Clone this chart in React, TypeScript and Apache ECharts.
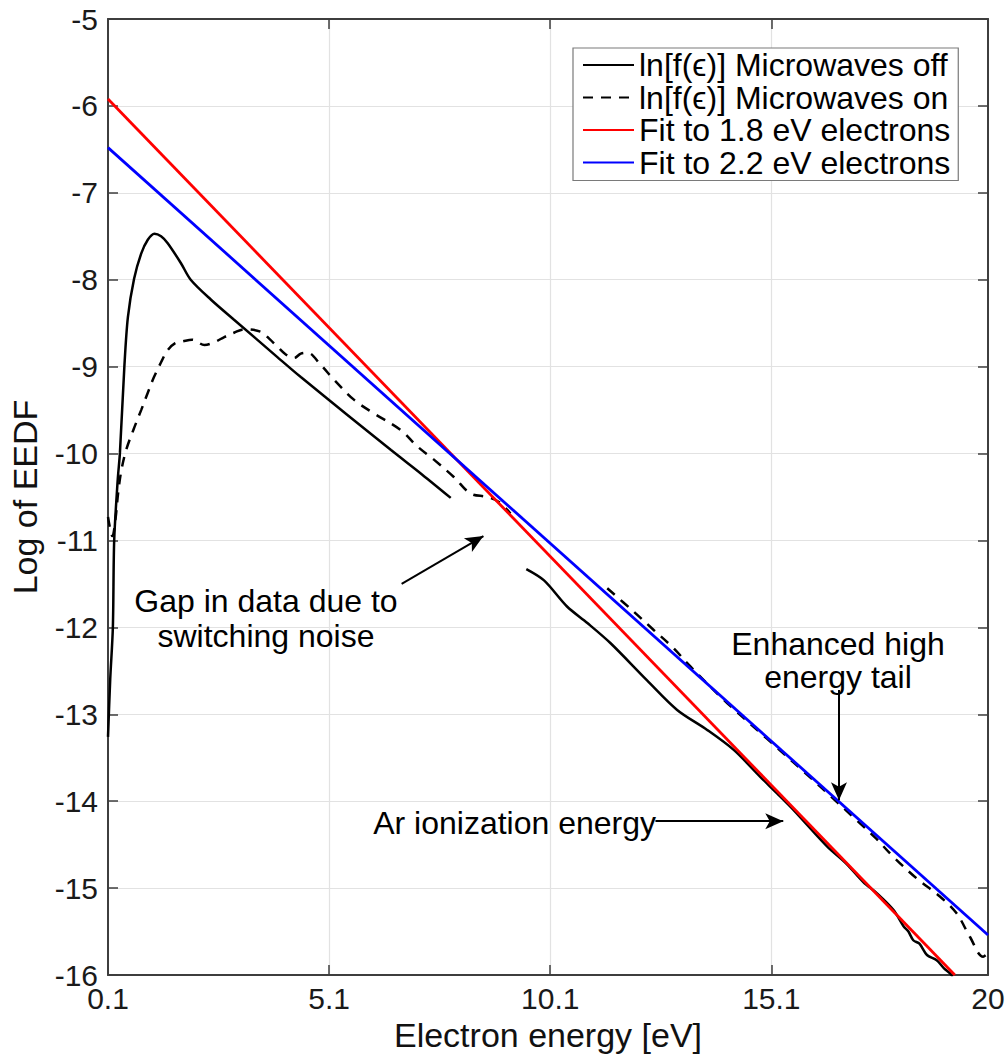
import React, { useEffect, useRef } from "react";
import * as echarts from "echarts";

const FONT = '"Liberation Sans", Arial, Helvetica, "DejaVu Sans", sans-serif';

// Axis ticks
const xTicks = [0.1, 5.1, 10.1, 15.1, 20];
const yMin = -16;
const yMax = -5;

// ln[f(eps)] microwaves off — two segments (gap due to switching noise)
const offX1 = [0.1, 0.15, 0.21, 0.24, 0.32, 0.37, 0.47, 0.55, 0.69, 0.85, 1.0, 1.15, 1.3, 1.45, 1.75, 1.97, 2.43, 2.95, 3.93, 4.46, 5.5, 6.5, 7.2, 7.85];
const offY1 = [-13.26, -12.6, -12.0, -11.0, -10.3, -9.99, -9.0, -8.43, -7.99, -7.7, -7.54, -7.47, -7.5, -7.58, -7.81, -8.0, -8.23, -8.46, -8.89, -9.12, -9.55, -9.96, -10.24, -10.51];
const offX2 = [9.56, 9.96, 10.48, 10.94, 11.46, 12.29, 12.97, 13.65, 14.25, 14.85, 15.23, 15.6, 16.36, 16.8, 17.18, 17.49, 17.86, 18.09, 18.2, 18.31, 18.45, 18.62, 18.84, 19.0, 19.14, 19.2];
const offY2 = [-11.33, -11.46, -11.76, -11.95, -12.18, -12.61, -12.95, -13.18, -13.41, -13.72, -13.91, -14.1, -14.52, -14.72, -14.93, -15.06, -15.25, -15.44, -15.5, -15.6, -15.64, -15.77, -15.83, -15.92, -15.98, -16.02];

// ln[f(eps)] microwaves on — two segments
const onX1 = [0.1, 0.2, 0.27, 0.33, 0.4, 0.51, 0.68, 0.85, 1.0, 1.14, 1.3, 1.45, 1.62, 1.79, 2.0, 2.28, 2.5, 2.73, 2.95, 3.18, 3.56, 3.75, 3.93, 4.12, 4.31, 4.46, 4.61, 4.91, 5.21, 5.66, 6.12, 6.72, 7.1, 7.47, 7.92, 8.3, 8.68, 8.95, 9.2];
const onY1 = [-10.73, -10.95, -10.75, -10.45, -10.2, -9.96, -9.72, -9.5, -9.3, -9.12, -8.95, -8.81, -8.73, -8.71, -8.69, -8.75, -8.72, -8.66, -8.61, -8.57, -8.6, -8.68, -8.77, -8.86, -8.9, -8.85, -8.84, -8.98, -9.15, -9.38, -9.54, -9.73, -9.92, -10.07, -10.27, -10.46, -10.5, -10.56, -10.69];
const onX2 = [11.39, 11.99, 12.44, 12.89, 13.27, 14.1, 15.0, 15.9, 16.5, 17.03, 17.45, 17.86, 18.39, 18.92, 19.29, 19.59, 19.89, 20];
const onY2 = [-11.55, -11.82, -12.03, -12.24, -12.45, -12.87, -13.28, -13.69, -13.97, -14.22, -14.42, -14.64, -14.89, -15.1, -15.29, -15.56, -15.79, -15.75];

// Linear fits
const fit18X = [0.1, 19.25];
const fit18Y = [-5.92, -16.0];
const fit22X = [0.1, 20];
const fit22Y = [-6.48, -15.54];

// Annotation arrows (data coordinates)
const arrowFromX = [6.74, 16.63, 12.48];
const arrowFromY = [-11.5, -12.72, -14.23];
const arrowToX = [8.59, 16.63, 15.37];
const arrowToY = [-10.95, -13.99, -14.23];

const seriesNames = [
  "ln[f(ϵ)] Microwaves off",
  "ln[f(ϵ)] Microwaves on",
  "Fit to 1.8 eV electrons",
  "Fit to 2.2 eV electrons",
];

function pairs(xs: number[], ys: number[]) {
  return xs.map((x, i) => [x, ys[i]]);
}
function segments(a: number[][], b: number[][]) {
  return [...a, [null, null], ...b];
}

export default function App() {
  const ref = useRef<HTMLDivElement>(null);
  useEffect(() => {
    if (!ref.current) return;
    const chart = echarts.init(ref.current, undefined, { renderer: "svg" });
    const axisColor = "#3e3e3e";
    const gridColor = "#e2e2e2";
    const arrows = arrowFromX.map((_, i) => [
      { coord: [arrowFromX[i], arrowFromY[i]] },
      { coord: [arrowToX[i], arrowToY[i]] },
    ]);
    chart.setOption({
      animation: false,
      backgroundColor: "#ffffff",
      textStyle: { fontFamily: FONT },
      grid: { left: 107, right: 20, top: 19, bottom: 84, containLabel: false },
      xAxis: [
        {
          type: "value",
          min: 0.1,
          max: 20,
          position: "bottom",
          name: "Electron energy [eV]",
          nameLocation: "middle",
          nameGap: 30,
          nameTextStyle: { fontSize: 34, color: "#111", fontFamily: FONT },
          axisLine: { show: true, onZero: false, lineStyle: { color: axisColor, width: 2 } },
          axisTick: { show: true, inside: true, length: 10, customValues: xTicks, lineStyle: { color: axisColor, width: 1.5 } },
          axisLabel: { show: true, customValues: xTicks, margin: 8, fontSize: 30, color: "#1a1a1a", fontFamily: FONT, formatter: (v: number) => String(Math.round(v * 10) / 10) },
          splitLine: { show: true, customValues: xTicks, lineStyle: { color: gridColor, width: 1.2 } },
        },
        {
          type: "value",
          min: 0.1,
          max: 20,
          position: "top",
          axisLine: { show: true, onZero: false, lineStyle: { color: axisColor, width: 2 } },
          axisTick: { show: true, inside: true, length: 10, customValues: xTicks, lineStyle: { color: axisColor, width: 1.5 } },
          axisLabel: { show: false },
          splitLine: { show: false },
        },
      ],
      yAxis: [
        {
          type: "value",
          min: yMin,
          max: yMax,
          interval: 1,
          position: "left",
          name: "Log of EEDF",
          nameLocation: "middle",
          nameGap: 66,
          nameTextStyle: { fontSize: 34, color: "#111", fontFamily: FONT },
          axisLine: { show: true, onZero: false, lineStyle: { color: axisColor, width: 2 } },
          axisTick: { show: true, inside: true, length: 10, lineStyle: { color: axisColor, width: 1.5 } },
          axisLabel: { show: true, margin: 10, fontSize: 30, color: "#1a1a1a", fontFamily: FONT },
          splitLine: { show: true, lineStyle: { color: gridColor, width: 1.2 } },
        },
        {
          type: "value",
          min: yMin,
          max: yMax,
          interval: 1,
          position: "right",
          axisLine: { show: true, onZero: false, lineStyle: { color: axisColor, width: 2 } },
          axisTick: { show: true, inside: true, length: 10, lineStyle: { color: axisColor, width: 1.5 } },
          axisLabel: { show: false },
          splitLine: { show: false },
        },
      ],
      legend: {
        data: seriesNames.map((n) => ({ name: n, itemStyle: { opacity: 0 } })),
        orient: "vertical",
        left: 573,
        top: 48,
        itemWidth: 51,
        itemHeight: 14,
        itemGap: 0.5,
        padding: [1, 8, 2, 9],
        borderColor: "#7a7a7a",
        borderWidth: 1.2,
        backgroundColor: "#ffffff",
        itemStyle: { opacity: 0 },
        textStyle: { fontSize: 32, lineHeight: 32, color: "#000", fontFamily: FONT },
        selectedMode: false,
      },
      graphic: [
        {
          type: "text",
          x: 266,
          y: 618,
          style: {
            text: "Gap in data due to\nswitching noise",
            fontSize: 32,
            lineHeight: 35,
            fontFamily: FONT,
            fill: "#000",
            align: "center",
            verticalAlign: "middle",
          },
          z: 10,
        },
        {
          type: "text",
          x: 838,
          y: 660,
          style: {
            text: "Enhanced high\nenergy tail",
            fontSize: 32,
            lineHeight: 33,
            fontFamily: FONT,
            fill: "#000",
            align: "center",
            verticalAlign: "middle",
          },
          z: 10,
        },
        {
          type: "text",
          x: 656,
          y: 823,
          style: {
            text: "Ar ionization energy",
            fontSize: 32,
            fontFamily: FONT,
            fill: "#000",
            align: "right",
            verticalAlign: "middle",
          },
          z: 10,
        },
      ],
      series: [
        {
          name: seriesNames[0],
          type: "line",
          data: segments(pairs(offX1, offY1), pairs(offX2, offY2)),
          showSymbol: false,
          symbol: "none",
          smooth: 0.3,
          connectNulls: false,
          lineStyle: { color: "#000", width: 2.5 },
          itemStyle: { color: "#000" },
          z: 2,
        },
        {
          name: seriesNames[1],
          type: "line",
          data: segments(pairs(onX1, onY1), pairs(onX2, onY2)),
          showSymbol: false,
          symbol: "none",
          smooth: 0.35,
          connectNulls: false,
          lineStyle: { color: "#000", width: 2.5, type: [10, 8] },
          itemStyle: { color: "#000" },
          z: 2,
        },
        {
          name: seriesNames[2],
          type: "line",
          data: pairs(fit18X, fit18Y),
          showSymbol: false,
          symbol: "none",
          lineStyle: { color: "#ff0000", width: 2.8 },
          itemStyle: { color: "#ff0000" },
          z: 3,
        },
        {
          name: seriesNames[3],
          type: "line",
          data: pairs(fit22X, fit22Y),
          showSymbol: false,
          symbol: "none",
          lineStyle: { color: "#0000ff", width: 2.8 },
          itemStyle: { color: "#0000ff" },
          z: 4,
        },
        {
          name: "annotations",
          type: "line",
          data: [],
          showSymbol: false,
          symbol: "none",
          markLine: {
            silent: true,
            animation: false,
            symbol: ["none", "arrow"],
            symbolSize: [12, 18],
            label: { show: false },
            emphasis: { disabled: true },
            lineStyle: { color: "#000", width: 2, type: "solid" },
            data: arrows,
          },
          z: 5,
        },
      ],
    });
    return () => chart.dispose();
  }, []);
  return (
    <div
      ref={ref}
      style={{ position: "absolute", left: 0, top: 0, width: 1008, height: 1059, background: "#fff" }}
    />
  );
}
